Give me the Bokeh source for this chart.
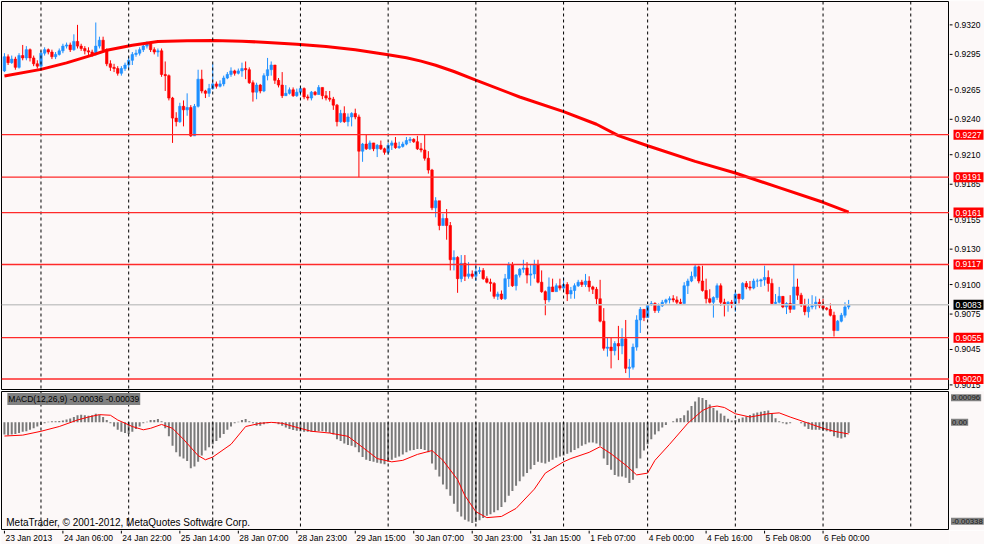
from bokeh.plotting import figure
from bokeh.models import Range1d, Span, Label, ColumnDataSource
from bokeh.layouts import column, row
from bokeh.core.properties import value
from bokeh.embed import file_html
from bokeh.resources import INLINE

# ---------------- data (hourly bars) ----------------
open0 = 0.9281
close = [
    0.9293, 0.9288, 0.9291, 0.9284, 0.9294, 0.9292, 0.9299, 0.9292, 0.9287, 0.9285,
    0.9296, 0.9299, 0.9297, 0.9293, 0.9295, 0.9298, 0.9302, 0.9303, 0.9299, 0.9306,
    0.9302, 0.9300, 0.9298, 0.9297, 0.9295, 0.9302, 0.9307, 0.9299, 0.9287, 0.9284,
    0.9283, 0.9279, 0.9283, 0.9286, 0.9290, 0.9295, 0.9296, 0.9299, 0.9302, 0.9304,
    0.9299, 0.9297, 0.9298, 0.9278, 0.9277, 0.9258, 0.9241, 0.9238, 0.9251, 0.9248,
    0.9250, 0.9226, 0.9251, 0.9274, 0.9264, 0.9262, 0.9266, 0.9270, 0.9268, 0.9270,
    0.9275, 0.9278, 0.9281, 0.9279, 0.9281, 0.9283, 0.9282, 0.9271, 0.9263, 0.9269,
    0.9264, 0.9277, 0.9282, 0.9286, 0.9273, 0.9269, 0.9260, 0.9262, 0.9265, 0.9260,
    0.9263, 0.9266, 0.9259, 0.9258, 0.9263, 0.9261, 0.9267, 0.9260, 0.9258, 0.9257,
    0.9252, 0.9238, 0.9245, 0.9238, 0.9242, 0.9245, 0.9242, 0.9213, 0.9219, 0.9215,
    0.9220, 0.9215, 0.9218, 0.9215, 0.9212, 0.9218, 0.9220, 0.9216, 0.9217, 0.9219,
    0.9222, 0.9223, 0.9221, 0.9215, 0.9214, 0.9207, 0.9197, 0.9165, 0.9171, 0.9150,
    0.9156, 0.9150, 0.9121, 0.9123, 0.9105, 0.9118, 0.9107, 0.9109, 0.9107, 0.9111,
    0.9112, 0.9105, 0.9102, 0.9101, 0.9090, 0.9092, 0.9088, 0.9105, 0.9117, 0.9099,
    0.9108, 0.9113, 0.9114, 0.9108, 0.9109, 0.9117, 0.9102, 0.9094, 0.9087, 0.9098,
    0.9094, 0.9099, 0.9097, 0.9100, 0.9092, 0.9095, 0.9099, 0.9102, 0.9100, 0.9103,
    0.9098, 0.9096, 0.9088, 0.9069, 0.9046, 0.9047, 0.9044, 0.9050, 0.9048, 0.9054,
    0.9029, 0.9030, 0.9047, 0.9070, 0.9079, 0.9072, 0.9083, 0.9084, 0.9078, 0.9082,
    0.9085, 0.9087, 0.9088, 0.9087, 0.9085, 0.9084, 0.9099, 0.9103, 0.9107, 0.9115,
    0.9103, 0.9095, 0.9088, 0.9085, 0.9089, 0.9099, 0.9085, 0.9083, 0.9085, 0.9084,
    0.9092, 0.9088, 0.9101, 0.9098, 0.9097, 0.9103, 0.9103, 0.9104, 0.9106, 0.9101,
    0.9084, 0.9085, 0.9090, 0.9081, 0.9084, 0.9079, 0.9098, 0.9091, 0.9083, 0.9077,
    0.9081, 0.9082, 0.9085, 0.9082, 0.9080, 0.9079, 0.9074, 0.9061, 0.9069, 0.9074,
    0.9081, 0.9083,
]
high = [
    0.9296, 0.9295, 0.9294, 0.9293, 0.9296, 0.9303, 0.9302, 0.9300, 0.9294, 0.9290,
    0.9298, 0.9301, 0.9300, 0.9299, 0.9297, 0.9300, 0.9304, 0.9305, 0.9305, 0.9312,
    0.9320, 0.9304, 0.9302, 0.9301, 0.9299, 0.9322, 0.9310, 0.9310, 0.9300, 0.9290,
    0.9287, 0.9285, 0.9285, 0.9288, 0.9293, 0.9297, 0.9299, 0.9301, 0.9304, 0.9306,
    0.9304, 0.9301, 0.9300, 0.9300, 0.9289, 0.9278, 0.9259, 0.9246, 0.9254, 0.9256,
    0.9262, 0.9252, 0.9253, 0.9282, 0.9282, 0.9265, 0.9270, 0.9287, 0.9272, 0.9273,
    0.9277, 0.9280, 0.9284, 0.9282, 0.9283, 0.9288, 0.9289, 0.9284, 0.9273, 0.9271,
    0.9270, 0.9279, 0.9292, 0.9289, 0.9285, 0.9275, 0.9280, 0.9269, 0.9267, 0.9267,
    0.9266, 0.9268, 0.9267, 0.9261, 0.9264, 0.9264, 0.9269, 0.9267, 0.9264, 0.9264,
    0.9259, 0.9253, 0.9248, 0.9251, 0.9245, 0.9246, 0.9249, 0.9244, 0.9220, 0.9227,
    0.9222, 0.9220, 0.9219, 0.9222, 0.9216, 0.9220, 0.9222, 0.9225, 0.9221, 0.9221,
    0.9225, 0.9225, 0.9224, 0.9226, 0.9220, 0.9227, 0.9213, 0.9198, 0.9174, 0.9168,
    0.9160, 0.9164, 0.9153, 0.9129, 0.9124, 0.9125, 0.9125, 0.9119, 0.9112, 0.9118,
    0.9115, 0.9114, 0.9107, 0.9105, 0.9102, 0.9094, 0.9095, 0.9109, 0.9119, 0.9119,
    0.9109, 0.9114, 0.9121, 0.9119, 0.9117, 0.9121, 0.9121, 0.9112, 0.9095, 0.9106,
    0.9105, 0.9101, 0.9105, 0.9106, 0.9102, 0.9098, 0.9101, 0.9104, 0.9104, 0.9109,
    0.9107, 0.9099, 0.9098, 0.9104, 0.9080, 0.9055, 0.9055, 0.9052, 0.9065, 0.9063,
    0.9070, 0.9037, 0.9050, 0.9074, 0.9081, 0.9077, 0.9085, 0.9086, 0.9085, 0.9084,
    0.9087, 0.9088, 0.9090, 0.9091, 0.9090, 0.9088, 0.9102, 0.9105, 0.9111, 0.9117,
    0.9116, 0.9116, 0.9105, 0.9096, 0.9090, 0.9101, 0.9101, 0.9088, 0.9086, 0.9087,
    0.9094, 0.9092, 0.9102, 0.9103, 0.9103, 0.9105, 0.9105, 0.9105, 0.9116, 0.9112,
    0.9105, 0.9092, 0.9098, 0.9090, 0.9085, 0.9091, 0.9117, 0.9105, 0.9093, 0.9088,
    0.9088, 0.9091, 0.9090, 0.9088, 0.9088, 0.9081, 0.9084, 0.9077, 0.9070, 0.9076,
    0.9085, 0.9087,
]
low = [
    0.9280, 0.9286, 0.9287, 0.9282, 0.9283, 0.9290, 0.9290, 0.9289, 0.9285, 0.9283,
    0.9284, 0.9294, 0.9295, 0.9291, 0.9291, 0.9294, 0.9296, 0.9300, 0.9297, 0.9298,
    0.9300, 0.9298, 0.9295, 0.9294, 0.9293, 0.9294, 0.9300, 0.9297, 0.9285, 0.9281,
    0.9280, 0.9277, 0.9277, 0.9281, 0.9283, 0.9286, 0.9293, 0.9294, 0.9297, 0.9300,
    0.9297, 0.9295, 0.9293, 0.9276, 0.9264, 0.9256, 0.9220, 0.9234, 0.9237, 0.9234,
    0.9243, 0.9225, 0.9226, 0.9250, 0.9262, 0.9258, 0.9259, 0.9265, 0.9266, 0.9267,
    0.9268, 0.9274, 0.9276, 0.9277, 0.9278, 0.9276, 0.9274, 0.9270, 0.9255, 0.9257,
    0.9262, 0.9263, 0.9273, 0.9277, 0.9270, 0.9267, 0.9258, 0.9260, 0.9261, 0.9259,
    0.9259, 0.9260, 0.9257, 0.9256, 0.9256, 0.9260, 0.9261, 0.9257, 0.9256, 0.9255,
    0.9248, 0.9234, 0.9237, 0.9237, 0.9234, 0.9234, 0.9240, 0.9191, 0.9204, 0.9214,
    0.9214, 0.9213, 0.9208, 0.9214, 0.9210, 0.9210, 0.9214, 0.9215, 0.9215, 0.9216,
    0.9218, 0.9220, 0.9220, 0.9214, 0.9212, 0.9205, 0.9194, 0.9163, 0.9157, 0.9146,
    0.9150, 0.9138, 0.9112, 0.9112, 0.9093, 0.9102, 0.9103, 0.9105, 0.9105, 0.9103,
    0.9109, 0.9104, 0.9101, 0.9094, 0.9088, 0.9087, 0.9087, 0.9087, 0.9098, 0.9098,
    0.9095, 0.9106, 0.9110, 0.9101, 0.9099, 0.9105, 0.9101, 0.9093, 0.9074, 0.9085,
    0.9094, 0.9095, 0.9095, 0.9094, 0.9086, 0.9088, 0.9088, 0.9098, 0.9098, 0.9098,
    0.9094, 0.9092, 0.9083, 0.9068, 0.9044, 0.9039, 0.9029, 0.9040, 0.9036, 0.9041,
    0.9025, 0.9021, 0.9028, 0.9044, 0.9059, 0.9069, 0.9072, 0.9082, 0.9076, 0.9076,
    0.9081, 0.9083, 0.9084, 0.9085, 0.9083, 0.9083, 0.9084, 0.9092, 0.9102, 0.9105,
    0.9101, 0.9094, 0.9084, 0.9084, 0.9072, 0.9087, 0.9082, 0.9073, 0.9077, 0.9080,
    0.9077, 0.9084, 0.9087, 0.9096, 0.9095, 0.9096, 0.9098, 0.9098, 0.9099, 0.9094,
    0.9083, 0.9083, 0.9084, 0.9080, 0.9075, 0.9076, 0.9080, 0.9087, 0.9081, 0.9074,
    0.9072, 0.9079, 0.9079, 0.9080, 0.9079, 0.9078, 0.9073, 0.9056, 0.9061, 0.9068,
    0.9072, 0.9079,
]

# moving average read at selected bars
ma_bars = [0, 10, 17, 24, 28, 35, 42, 50, 57, 65, 72, 80, 88, 96, 105, 110, 114, 118,
           123, 129, 141, 153, 162, 168, 176, 189, 200, 212, 224, 231]
ma_vals = [0.92767, 0.92823, 0.92878, 0.92944, 0.92985, 0.93027, 0.93060, 0.93066,
           0.93068, 0.93062, 0.93051, 0.93035, 0.93016, 0.92990, 0.92947, 0.92922,
           0.92893, 0.92858, 0.92805, 0.92732, 0.92589, 0.92465, 0.92358, 0.92262,
           0.92176, 0.92044, 0.91945, 0.91821, 0.91697, 0.91614]

# MACD main (histogram)
macd_hist = [
    -0.00041, -0.00043, -0.00041, -0.00039, -0.00036, -0.00032, -0.00030, -0.00025, -0.00020, -0.00014,
    -0.00009, -0.00003, 0.00002, 0.00004, 0.00004, 0.00005, 0.00006, 0.00010, 0.00013, 0.00018,
    0.00024, 0.00026, 0.00024, 0.00022, 0.00024, 0.00029, 0.00026, 0.00018, 0.00008, -0.00003,
    -0.00014, -0.00025, -0.00032, -0.00036, -0.00039, -0.00032, -0.00022, -0.00014, -0.00003, 0.00002,
    0.00008, 0.00008, 0.00011, 0.00004, -0.00020, -0.00047, -0.00079, -0.00101, -0.00115, -0.00122,
    -0.00130, -0.00155, -0.00149, -0.00133, -0.00112, -0.00095, -0.00084, -0.00074, -0.00063, -0.00052,
    -0.00039, -0.00025, -0.00014, -0.00003, 0.00002, 0.00008, 0.00011, 0.00004, -0.00003, -0.00011,
    -0.00011, -0.00006, -0.00003, 0.00000, -0.00002, -0.00006, -0.00011, -0.00017, -0.00022, -0.00026,
    -0.00028, -0.00030, -0.00032, -0.00032, -0.00032, -0.00032, -0.00030, -0.00030, -0.00032, -0.00036,
    -0.00041, -0.00057, -0.00063, -0.00071, -0.00076, -0.00079, -0.00084, -0.00101, -0.00117, -0.00126,
    -0.00130, -0.00133, -0.00136, -0.00139, -0.00141, -0.00133, -0.00126, -0.00119, -0.00115, -0.00108,
    -0.00101, -0.00095, -0.00093, -0.00090, -0.00090, -0.00093, -0.00101, -0.00139, -0.00160, -0.00182,
    -0.00209, -0.00225, -0.00247, -0.00274, -0.00301, -0.00317, -0.00328, -0.00334, -0.00339, -0.00336,
    -0.00330, -0.00322, -0.00315, -0.00310, -0.00303, -0.00296, -0.00285, -0.00269, -0.00247, -0.00231,
    -0.00214, -0.00198, -0.00182, -0.00171, -0.00158, -0.00144, -0.00133, -0.00136, -0.00139, -0.00133,
    -0.00126, -0.00119, -0.00115, -0.00112, -0.00106, -0.00101, -0.00093, -0.00087, -0.00079, -0.00074,
    -0.00068, -0.00068, -0.00071, -0.00079, -0.00122, -0.00144, -0.00160, -0.00177, -0.00182, -0.00182,
    -0.00187, -0.00204, -0.00193, -0.00155, -0.00122, -0.00095, -0.00074, -0.00057, -0.00041, -0.00030,
    -0.00017, -0.00009, 0.00000, 0.00004, 0.00013, 0.00015, 0.00024, 0.00040, 0.00055, 0.00070,
    0.00085, 0.00082, 0.00075, 0.00060, 0.00048, 0.00040, 0.00030, 0.00022, 0.00012, 0.00006,
    0.00008, 0.00012, 0.00016, 0.00020, 0.00025, 0.00030, 0.00033, 0.00036, 0.00038, 0.00040,
    0.00030, 0.00014, 0.00004, -0.00003, -0.00006, -0.00003, 0.00000, 0.00000, -0.00003, -0.00014,
    -0.00022, -0.00025, -0.00025, -0.00025, -0.00028, -0.00030, -0.00032, -0.00047, -0.00052, -0.00054,
    -0.00050, -0.00036,
]
# MACD signal read at selected bars
sig_bars = [0, 5, 10, 15, 20, 23, 26, 29, 31, 35, 38, 40, 43, 46, 49, 53, 55, 57, 62, 66,
            70, 73, 76, 80, 84, 89, 94, 98, 102, 106, 109, 113, 117, 120, 124, 126, 129, 132,
            136, 140, 145, 148, 153, 155, 160, 163, 166, 170, 173, 176, 178, 182, 187, 191,
            193, 195, 197, 200, 204, 209, 212, 215, 220, 224, 227, 231]
sig_vals = [-0.00046, -0.00043, -0.00030, -0.00014, 0.00008, 0.00018, 0.00026, 0.00024,
            0.00008, -0.00014, -0.00025, -0.00020, -0.00007, -0.00020, -0.00057, -0.00112,
            -0.00126, -0.00117, -0.00074, -0.00014, -0.00003, 0.00000, -0.00003, -0.00017,
            -0.00030, -0.00036, -0.00047, -0.00084, -0.00122, -0.00133, -0.00128, -0.00108,
            -0.00095, -0.00128, -0.00193, -0.00247, -0.00301, -0.00321, -0.00317, -0.00290,
            -0.00225, -0.00171, -0.00133, -0.00122, -0.00101, -0.00082, -0.00106, -0.00144,
            -0.00177, -0.00171, -0.00128, -0.00074, -0.00003, 0.00040, 0.00051, 0.00055,
            0.00050, 0.00029, 0.00018, 0.00029, 0.00032, 0.00018, -0.00003, -0.00020,
            -0.00030, -0.00039]

levels = [0.9227, 0.9191, 0.9161, 0.9117, 0.9055, 0.9020]
bid = 0.9083
price_ticks = [0.9320, 0.9295, 0.9265, 0.9240, 0.9210, 0.9185, 0.9155, 0.9130,
               0.9100, 0.9075, 0.9045, 0.9015]
time_tick_bars = [0, 16, 32, 48, 64, 80, 96, 112, 128, 144, 160, 176, 192, 208, 224]
time_tick_labels = ["23 Jan 2013", "24 Jan 06:00", "24 Jan 22:00", "25 Jan 14:00",
                    "28 Jan 07:00", "28 Jan 23:00", "29 Jan 15:00", "30 Jan 07:00",
                    "30 Jan 23:00", "31 Jan 15:00", "1 Feb 07:00", "4 Feb 00:00",
                    "4 Feb 16:00", "5 Feb 08:00", "6 Feb 00:00"]
day_start_bars = [10, 34, 57, 81, 105, 129, 153, 176, 200, 224, 248]
macd_title = "MACD(12,26,9) -0.00036 -0.00039"
macd_scale_text = ["0.00096", "0.00", "-0.00338"]
macd_scale_pos = [0.00083, 0.0, -0.00333]
copyright_text = "MetaTrader, \u00a9 2001-2012, MetaQuotes Software Corp."

# ---------------- styling / layout ----------------
BG = "#fcf8f8"
FONT = "Liberation Sans"
UP = "#1e90ff"
DN = "#ff0000"
MAIN_W, SIDE_W = 949, 35
H1, H2, H3 = 390, 140, 14

bars = list(range(len(close)))
opens = [open0] + close[:-1]
src = ColumnDataSource(dict(
    x=bars, h=high, l=low,
    col=[UP if c >= o else DN for o, c in zip(opens, close)],
    top=[max(o, c) for o, c in zip(opens, close)],
    bot=[min(o, c) for o, c in zip(opens, close)],
))

xr = Range1d(-0.8, 258.6)
yr1 = Range1d(0.90111, 0.93398)
yr2 = Range1d(-0.00361, 0.00104)


def base_fig(width, height, x_range, y_range, outline=True, left=1):
    f = figure(width=width, height=height, x_range=x_range, y_range=y_range,
               output_backend="svg", toolbar_location=None,
               x_axis_location=None, y_axis_location=None,
               min_border_left=left, min_border_right=0, min_border_top=1,
               min_border_bottom=1,
               background_fill_color=BG, border_fill_color=BG,
               outline_line_color="black" if outline else None, outline_line_width=1)
    f.grid.grid_line_color = None
    return f


# ---- main price panel ----
p1 = base_fig(MAIN_W, H1, xr, yr1)
for b in day_start_bars:
    p1.add_layout(Span(location=b, dimension="height", line_color="black",
                       line_dash="3 3", line_width=1))
p1.add_layout(Span(location=bid, dimension="width", line_color="#c8c8c8", line_width=1.5))
for lv in levels:
    p1.add_layout(Span(location=lv, dimension="width", line_color="#ff2a2a", line_width=1.3))
p1.segment(x0="x", x1="x", y0="l", y1="h", color="col", line_width=1, source=src)
p1.vbar(x="x", top="top", bottom="bot", width=0.68, fill_color="col", line_color="col",
        line_width=0.6, source=src)
p1.line(ma_bars, ma_vals, line_color="#ff0000", line_width=3)

# ---- price scale (right) ----
s1 = base_fig(SIDE_W, H1, Range1d(0, SIDE_W), yr1, outline=False, left=0)
s1.segment(x0=0, x1=3, y0=price_ticks, y1=price_ticks, line_color="black", line_width=1)
s1.text(x=5, y=price_ticks, text=[f"{t:.4f}" for t in price_ticks],
        text_font=value(FONT), text_font_size="8.5px", text_color="black",
        text_baseline="middle", text_align="left")
for lv in levels:
    s1.add_layout(Label(x=4, y=lv, text=f"{lv:.4f}", text_color="white",
                        text_font=FONT, text_font_size="8.5px", text_align="left",
                        text_baseline="middle", background_fill_color="#ff0000",
                        padding=2))
s1.add_layout(Label(x=4, y=bid, text=f"{bid:.4f}", text_color="white",
                    text_font=FONT, text_font_size="8.5px", text_align="left",
                    text_baseline="middle", background_fill_color="black", padding=2))

# ---- MACD panel ----
p2 = base_fig(MAIN_W, H2, xr, yr2)
for b in day_start_bars:
    p2.add_layout(Span(location=b, dimension="height", line_color="black",
                       line_dash="3 3", line_width=1))
p2.vbar(x=bars, top=macd_hist, bottom=0, width=0.55, fill_color="#7a7a7a",
        line_color=None)
p2.line(sig_bars, sig_vals, line_color="#ff0000", line_width=1)
p2.add_layout(Label(x=0.8, y=0.00099, text=macd_title, text_color="black",
                    text_font=FONT, text_font_size="8.5px", text_align="left",
                    text_baseline="top", background_fill_color="#808080", padding=1))
p2.add_layout(Label(x=0.5, y=-0.00357, text=copyright_text,
                    text_color="black", text_font=FONT, text_font_size="10px",
                    text_align="left", text_baseline="bottom"))

s2 = base_fig(SIDE_W, H2, Range1d(0, SIDE_W), yr2, outline=False, left=0)
for t, v in zip(macd_scale_text, macd_scale_pos):
    s2.add_layout(Label(x=1.5, y=v, text=t, text_color="#1a1a1a", text_font=FONT,
                        text_font_size="7.8px", text_align="left", text_baseline="middle",
                        background_fill_color="#808080", padding=1))

# ---- time scale (bottom) ----
t1 = figure(width=MAIN_W + SIDE_W, height=H3, x_range=xr, y_range=Range1d(H3, 0),
            output_backend="svg", toolbar_location=None,
            x_axis_location=None, y_axis_location=None,
            min_border_left=1, min_border_right=SIDE_W, min_border_top=0,
            min_border_bottom=0, background_fill_color=BG, border_fill_color=BG,
            outline_line_color=None)
t1.grid.grid_line_color = None
t1.segment(x0=time_tick_bars, x1=time_tick_bars, y0=0, y1=3, line_color="black",
           line_width=1)
t1.text(x=time_tick_bars, y=2.5, text=time_tick_labels, text_font=value(FONT),
        text_font_size="8.5px", text_color="black", text_align="left",
        text_baseline="top", x_offset=1)

layout = column(row(p1, s1, spacing=0), row(p2, s2, spacing=0), t1, spacing=0)
open("out.html", "w").write(file_html(layout, INLINE))
